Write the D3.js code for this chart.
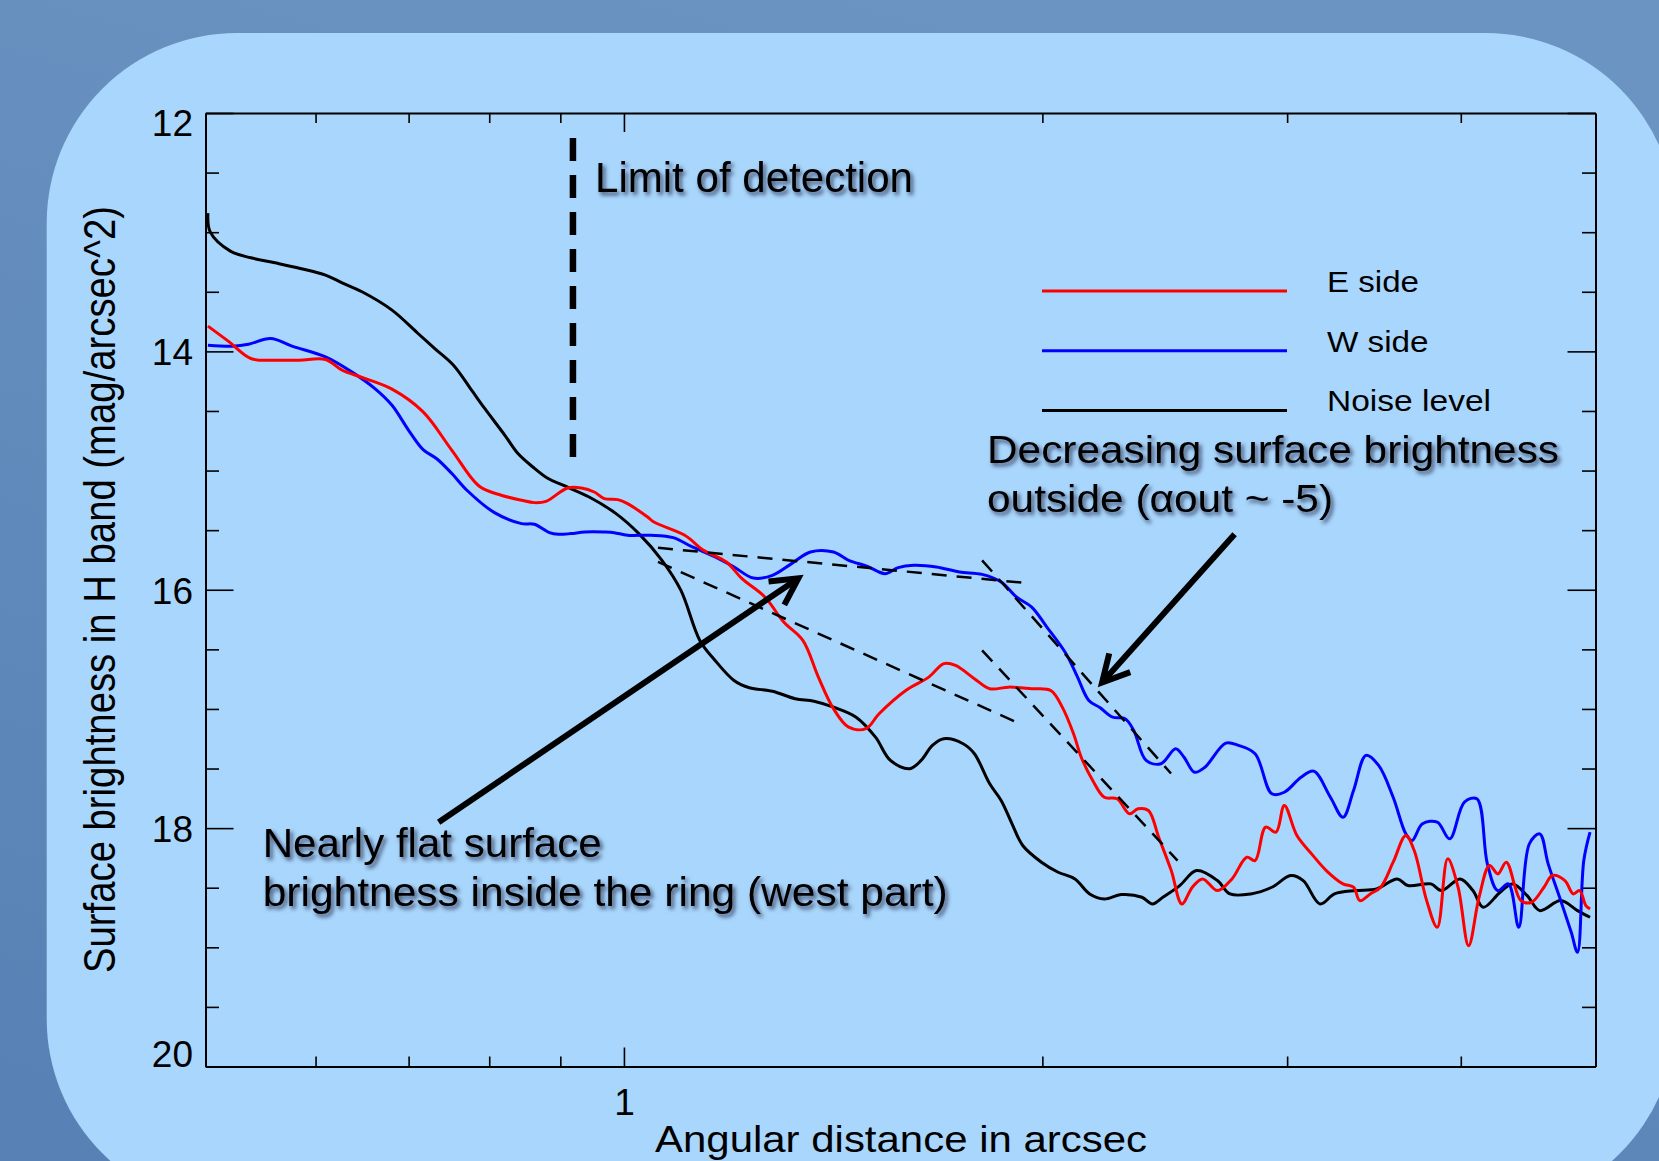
<!DOCTYPE html>
<html>
<head>
<meta charset="utf-8">
<script src="https://cdn.jsdelivr.net/npm/d3@7"></script>
<style>
  html, body { margin: 0; padding: 0; background: #6690bf; }
  svg { display: block; }
</style>
</head>
<body>
<svg id="chart" width="1659" height="1161"></svg>
<script>
// Radial surface-brightness profiles: radius (arcsec) and H-band brightness (mag/arcsec^2)
const eSideR = [0.502, 0.520, 0.539, 0.561, 0.584, 0.610, 0.627, 0.648, 0.681, 0.717, 0.752, 0.787, 0.816, 0.844, 0.862, 0.879, 0.911, 0.932, 0.952, 0.968, 0.990, 1.006, 1.040, 1.051, 1.106, 1.141, 1.185, 1.216, 1.263, 1.303, 1.345, 1.380, 1.415, 1.451, 1.493, 1.526, 1.595, 1.657, 1.699, 1.732, 1.787, 1.833, 1.892, 1.965, 2.028, 2.067, 2.106, 2.133, 2.174, 2.216, 2.263, 2.311, 2.343, 2.384, 2.425, 2.476, 2.520, 2.564, 2.608, 2.673, 2.738, 2.806, 2.845, 2.895, 2.945, 2.986, 3.049, 3.124, 3.201, 3.291, 3.349, 3.384, 3.443, 3.503, 3.576, 3.652, 3.703, 3.780, 3.847, 3.914, 3.982, 4.052, 4.123, 4.195, 4.254, 4.313, 4.419, 4.497, 4.591, 4.655, 4.753, 4.819, 4.870, 4.921, 4.955];
const eSideMag = [13.788, 13.920, 14.060, 14.074, 14.074, 14.068, 14.158, 14.219, 14.317, 14.508, 14.830, 15.132, 15.207, 15.249, 15.269, 15.258, 15.146, 15.146, 15.180, 15.235, 15.244, 15.277, 15.390, 15.432, 15.543, 15.669, 15.767, 15.907, 16.061, 16.271, 16.425, 16.733, 16.998, 17.153, 17.166, 17.040, 16.845, 16.733, 16.620, 16.635, 16.746, 16.830, 16.817, 16.830, 16.845, 16.985, 17.208, 17.405, 17.600, 17.741, 17.754, 17.880, 17.838, 17.852, 18.076, 18.356, 18.636, 18.496, 18.426, 18.524, 18.426, 18.244, 18.272, 17.992, 18.034, 17.810, 18.062, 18.216, 18.356, 18.468, 18.496, 18.608, 18.552, 18.496, 18.286, 18.062, 18.188, 18.608, 18.832, 18.258, 18.496, 18.986, 18.580, 18.314, 18.384, 18.286, 18.608, 18.622, 18.496, 18.398, 18.440, 18.552, 18.524, 18.650, 18.678];

const wSideR = [0.502, 0.523, 0.537, 0.557, 0.577, 0.610, 0.637, 0.662, 0.681, 0.700, 0.717, 0.733, 0.752, 0.771, 0.807, 0.844, 0.862, 0.884, 0.897, 0.916, 0.937, 0.968, 0.984, 1.006, 1.046, 1.085, 1.120, 1.163, 1.200, 1.239, 1.279, 1.320, 1.362, 1.415, 1.451, 1.497, 1.541, 1.575, 1.616, 1.678, 1.743, 1.810, 1.868, 1.916, 1.965, 2.015, 2.080, 2.120, 2.160, 2.201, 2.247, 2.294, 2.327, 2.375, 2.434, 2.494, 2.529, 2.573, 2.618, 2.710, 2.767, 2.845, 2.925, 2.986, 3.070, 3.135, 3.223, 3.291, 3.349, 3.419, 3.491, 3.576, 3.652, 3.690, 3.754, 3.847, 3.927, 4.024, 4.108, 4.180, 4.252, 4.328, 4.403, 4.481, 4.559, 4.623, 4.720, 4.803, 4.853, 4.904, 4.955];
const wSideMag = [13.948, 13.956, 13.940, 13.892, 13.956, 14.046, 14.172, 14.312, 14.452, 14.662, 14.824, 14.899, 15.025, 15.165, 15.353, 15.445, 15.451, 15.521, 15.535, 15.529, 15.516, 15.516, 15.521, 15.543, 15.543, 15.563, 15.641, 15.725, 15.809, 15.902, 15.879, 15.781, 15.683, 15.683, 15.753, 15.804, 15.865, 15.814, 15.795, 15.809, 15.851, 15.871, 15.935, 16.061, 16.145, 16.313, 16.537, 16.733, 16.929, 16.990, 17.069, 17.082, 17.181, 17.432, 17.460, 17.334, 17.405, 17.531, 17.489, 17.287, 17.306, 17.376, 17.712, 17.699, 17.573, 17.522, 17.741, 17.909, 17.684, 17.390, 17.474, 17.741, 18.048, 18.104, 17.964, 17.950, 18.090, 17.782, 17.754, 18.300, 18.524, 18.468, 18.832, 18.132, 18.048, 18.300, 18.608, 18.874, 19.042, 18.272, 18.034];

const noiseR = [0.502, 0.504, 0.521, 0.539, 0.561, 0.585, 0.610, 0.627, 0.648, 0.681, 0.711, 0.731, 0.754, 0.777, 0.794, 0.821, 0.839, 0.860, 0.882, 0.904, 0.944, 0.987, 1.025, 1.065, 1.099, 1.134, 1.163, 1.200, 1.231, 1.279, 1.328, 1.370, 1.415, 1.469, 1.517, 1.555, 1.605, 1.636, 1.667, 1.699, 1.754, 1.787, 1.833, 1.868, 1.902, 1.936, 1.997, 2.053, 2.111, 2.163, 2.216, 2.279, 2.359, 2.400, 2.442, 2.511, 2.582, 2.673, 2.729, 2.825, 2.925, 3.018, 3.081, 3.168, 3.245, 3.360, 3.479, 3.601, 3.664, 3.807, 3.873, 3.996, 4.081, 4.152, 4.269, 4.358, 4.465, 4.559, 4.720, 4.853, 4.955];
const noiseMag = [12.84, 13.00, 13.159, 13.215, 13.257, 13.304, 13.360, 13.425, 13.500, 13.654, 13.850, 13.976, 14.116, 14.326, 14.479, 14.704, 14.857, 14.970, 15.067, 15.123, 15.222, 15.361, 15.529, 15.753, 16.005, 16.425, 16.593, 16.761, 16.822, 16.851, 16.914, 16.935, 16.985, 17.069, 17.237, 17.432, 17.502, 17.432, 17.306, 17.250, 17.292, 17.376, 17.628, 17.768, 17.964, 18.146, 18.286, 18.370, 18.426, 18.552, 18.594, 18.557, 18.580, 18.636, 18.580, 18.482, 18.356, 18.440, 18.552, 18.552, 18.496, 18.398, 18.440, 18.636, 18.552, 18.524, 18.510, 18.426, 18.482, 18.468, 18.524, 18.426, 18.524, 18.664, 18.538, 18.468, 18.566, 18.692, 18.608, 18.692, 18.748];

const seriesNames = ["E side", "W side", "Noise level"];
const seriesColors = ["#ff0000", "#0000ff", "#000000"];

// Axis ticks
const xTickLabels = [1];
const xMinorTicks = [0.6, 0.7, 0.8, 0.9, 2, 3, 4];
const yTickLabels = [12, 14, 16, 18, 20];
const yMinorTicks = [12.5, 13, 13.5, 14.5, 15, 15.5, 16.5, 17, 17.5, 18.5, 19, 19.5];

// Power-law guides: [r0, mag0, r1, mag1]
const fitInnerW = [1.058, 15.648, 1.932, 15.940];
const fitInnerE = [1.058, 15.766, 1.911, 17.105];
const fitOuterW = [1.810, 15.753, 2.475, 17.542];
const fitOuterE = [1.810, 16.509, 2.502, 18.272];

// Detection limit (radius, magnitude span)
const detectionLimitR = 0.919;
const detectionLimitMag = [12.21, 14.89];

// Annotation arrows: [tailR, tailMag, tipR, tipMag]
const arrowFlat = [0.7357, 17.95, 1.335, 15.904];
const arrowSteep = [2.750, 15.535, 2.208, 16.778];

// ---------------------------------------------------------------
const W = 1659, H = 1161;
const svg = d3.select("#chart");
const defs = svg.append("defs");

const grad = defs.append("linearGradient").attr("id", "bgGrad")
  .attr("x1", 0.6).attr("y1", 0).attr("x2", 0.2).attr("y2", 1);
grad.append("stop").attr("offset", 0).attr("stop-color", "#6b94c2");
grad.append("stop").attr("offset", 1).attr("stop-color", "#5882b5");

const shadow = defs.append("filter").attr("id", "textShadow")
  .attr("x", "-5%").attr("y", "-30%").attr("width", "115%").attr("height", "170%");
shadow.append("feDropShadow").attr("dx", 2.5).attr("dy", 3).attr("stdDeviation", 2)
  .attr("flood-color", "#0b1826").attr("flood-opacity", 0.7);

svg.append("rect").attr("width", W).attr("height", H).attr("fill", "url(#bgGrad)");
svg.append("rect").attr("x", 46.7).attr("y", 33).attr("width", 1629).attr("height", 1176)
  .attr("rx", 190).attr("ry", 190).attr("fill", "#a9d6fc");

// Scales
const x = d3.scaleLog().domain([0.5, 5]).range([205.5, 1595.5]);
const y = d3.scaleLinear().domain([12, 20]).range([113, 1066.5]);

const FONT = "'Liberation Sans', Arial, Helvetica, sans-serif";
const NARROW = "'Liberation Sans Narrow', 'Liberation Sans', Arial, sans-serif";

function styleAxis(g, keepDomain) {
  g.attr("font-family", FONT).attr("font-size", 37);
  g.selectAll(".tick line").attr("stroke", "#000").attr("stroke-width", 1.6);
  if (keepDomain) g.select(".domain").attr("stroke", "#000").attr("stroke-width", 2);
  else g.select(".domain").remove();
  g.selectAll(".tick text").attr("fill", "#000");
}

const axes = svg.append("g").attr("class", "axes");
const noLabel = () => "";

// bottom
axes.append("g").attr("transform", `translate(0,${y(20)})`)
  .call(d3.axisBottom(x).tickValues(xMinorTicks).tickSizeInner(-10).tickSizeOuter(0).tickFormat(noLabel))
  .call(g => styleAxis(g, true));
axes.append("g").attr("transform", `translate(0,${y(20)})`)
  .call(d3.axisBottom(x).tickValues(xTickLabels).tickSizeInner(-19).tickSizeOuter(0).tickPadding(22).tickFormat(d3.format("d")))
  .call(g => styleAxis(g, false));
// top
axes.append("g").attr("transform", `translate(0,${y(12)})`)
  .call(d3.axisTop(x).tickValues(xMinorTicks).tickSizeInner(-10).tickSizeOuter(0).tickFormat(noLabel))
  .call(g => styleAxis(g, true));
axes.append("g").attr("transform", `translate(0,${y(12)})`)
  .call(d3.axisTop(x).tickValues(xTickLabels).tickSizeInner(-19).tickSizeOuter(0).tickFormat(noLabel))
  .call(g => styleAxis(g, false));
// left
axes.append("g").attr("transform", `translate(${x(0.5)},0)`)
  .call(d3.axisLeft(y).tickValues(yMinorTicks).tickSizeInner(-13.5).tickSizeOuter(0).tickFormat(noLabel))
  .call(g => styleAxis(g, true));
axes.append("g").attr("transform", `translate(${x(0.5)},0)`)
  .call(d3.axisLeft(y).tickValues(yTickLabels).tickSizeInner(-28).tickSizeOuter(0).tickPadding(12.5).tickFormat(d3.format("d")))
  .call(g => styleAxis(g, false))
  .call(g => g.selectAll(".tick text")
    .attr("dy", d => d === 12 ? "0.6em" : d === 20 ? "0em" : "0.36em"));
// right
axes.append("g").attr("transform", `translate(${x(5)},0)`)
  .call(d3.axisRight(y).tickValues(yMinorTicks).tickSizeInner(-13.5).tickSizeOuter(0).tickFormat(noLabel))
  .call(g => styleAxis(g, true));
axes.append("g").attr("transform", `translate(${x(5)},0)`)
  .call(d3.axisRight(y).tickValues(yTickLabels).tickSizeInner(-28).tickSizeOuter(0).tickFormat(noLabel))
  .call(g => styleAxis(g, false));

// Axis titles
svg.append("text")
  .attr("transform", `translate(115,${(206 + 973) / 2}) rotate(-90)`)
  .attr("text-anchor", "middle")
  .attr("font-family", NARROW).attr("font-size", 44)
  .attr("textLength", 767).attr("lengthAdjust", "spacingAndGlyphs")
  .text("Surface brightness in H band (mag/arcsec^2)");

svg.append("text")
  .attr("x", 901).attr("y", 1152).attr("text-anchor", "middle")
  .attr("font-family", NARROW).attr("font-size", 36)
  .attr("textLength", 492).attr("lengthAdjust", "spacingAndGlyphs")
  .text("Angular distance in arcsec");

// Profiles
const series = [
  { name: seriesNames[0], color: seriesColors[0], r: eSideR, m: eSideMag },
  { name: seriesNames[1], color: seriesColors[1], r: wSideR, m: wSideMag },
  { name: seriesNames[2], color: seriesColors[2], r: noiseR, m: noiseMag }
];

const line = d3.line()
  .x(d => x(d[0])).y(d => y(d[1]))
  .curve(d3.curveCatmullRom.alpha(0.5));

const plot = svg.append("g").attr("class", "profiles");
// noise first, then W, then E on top
[series[2], series[1], series[0]].forEach(s => {
  plot.append("path")
    .datum(s.r.map((r, i) => [r, s.m[i]]))
    .attr("d", line)
    .attr("fill", "none")
    .attr("stroke", s.color)
    .attr("stroke-width", 3)
    .attr("stroke-linejoin", "round");
});

// Power-law guides
const guides = svg.append("g").attr("class", "guides");
[fitInnerW, fitInnerE, fitOuterW, fitOuterE].forEach(f => {
  guides.append("line")
    .attr("x1", x(f[0])).attr("y1", y(f[1]))
    .attr("x2", x(f[2])).attr("y2", y(f[3]))
    .attr("stroke", "#000").attr("stroke-width", 2.5)
    .attr("stroke-dasharray", "15,10");
});

// Detection limit
svg.append("line")
  .attr("x1", x(detectionLimitR)).attr("x2", x(detectionLimitR))
  .attr("y1", y(detectionLimitMag[0])).attr("y2", y(detectionLimitMag[1]))
  .attr("stroke", "#000").attr("stroke-width", 6.5)
  .attr("stroke-dasharray", "23,14");

// Arrows
function drawArrow(a) {
  const x0 = x(a[0]), y0 = y(a[1]), x1 = x(a[2]), y1 = y(a[3]);
  const ang = Math.atan2(y0 - y1, x0 - x1);
  const L = 30, spread = 28 * Math.PI / 180;
  const b1 = [x1 + L * Math.cos(ang + spread), y1 + L * Math.sin(ang + spread)];
  const b2 = [x1 + L * Math.cos(ang - spread), y1 + L * Math.sin(ang - spread)];
  const g = svg.append("g").attr("class", "arrow");
  g.append("line").attr("x1", x0).attr("y1", y0).attr("x2", x1 + 2 * Math.cos(ang)).attr("y2", y1 + 2 * Math.sin(ang))
    .attr("stroke", "#000").attr("stroke-width", 6);
  g.append("path").attr("d", `M${b1[0]},${b1[1]}L${x1},${y1}L${b2[0]},${b2[1]}`)
    .attr("fill", "none").attr("stroke", "#000").attr("stroke-width", 6)
    .attr("stroke-linejoin", "miter");
}
drawArrow(arrowFlat);
drawArrow(arrowSteep);

// Legend
const legend = svg.append("g").attr("class", "legend").attr("transform", "translate(1042,291)");
const legendWidths = [92, 101.6, 164];
series.forEach((s, i) => {
  const row = legend.append("g").attr("transform", `translate(0,${i * 59.8})`);
  row.append("line").attr("x1", 0).attr("x2", 245).attr("y1", 0).attr("y2", 0)
    .attr("stroke", s.color).attr("stroke-width", 3);
  row.append("text").attr("x", 285).attr("y", 0.7)
    .attr("font-family", FONT).attr("font-size", 30)
    .attr("textLength", legendWidths[i]).attr("lengthAdjust", "spacingAndGlyphs")
    .text(s.name);
});

// Annotations
const notes = svg.append("g").attr("class", "notes").attr("filter", "url(#textShadow)")
  .attr("font-family", FONT).attr("fill", "#000");
const noteLines = [
  { text: "Limit of detection", x: 595, y: 191.5, size: 42, len: 318, font: NARROW },
  { text: "Decreasing surface brightness", x: 987, y: 462.7, size: 38, len: 572, font: FONT },
  { text: "outside (\u03B1out ~ -5)", x: 987, y: 511.7, size: 38, len: 346, font: FONT },
  { text: "Nearly flat surface", x: 262.7, y: 856.7, size: 40, len: 339, font: FONT },
  { text: "brightness inside the ring (west part)", x: 262.7, y: 906, size: 40, len: 685, font: FONT }
];
noteLines.forEach(n => {
  notes.append("text").attr("x", n.x).attr("y", n.y)
    .attr("font-family", n.font).attr("font-size", n.size)
    .attr("textLength", n.len).attr("lengthAdjust", "spacingAndGlyphs")
    .text(n.text);
});
</script>
</body>
</html>
